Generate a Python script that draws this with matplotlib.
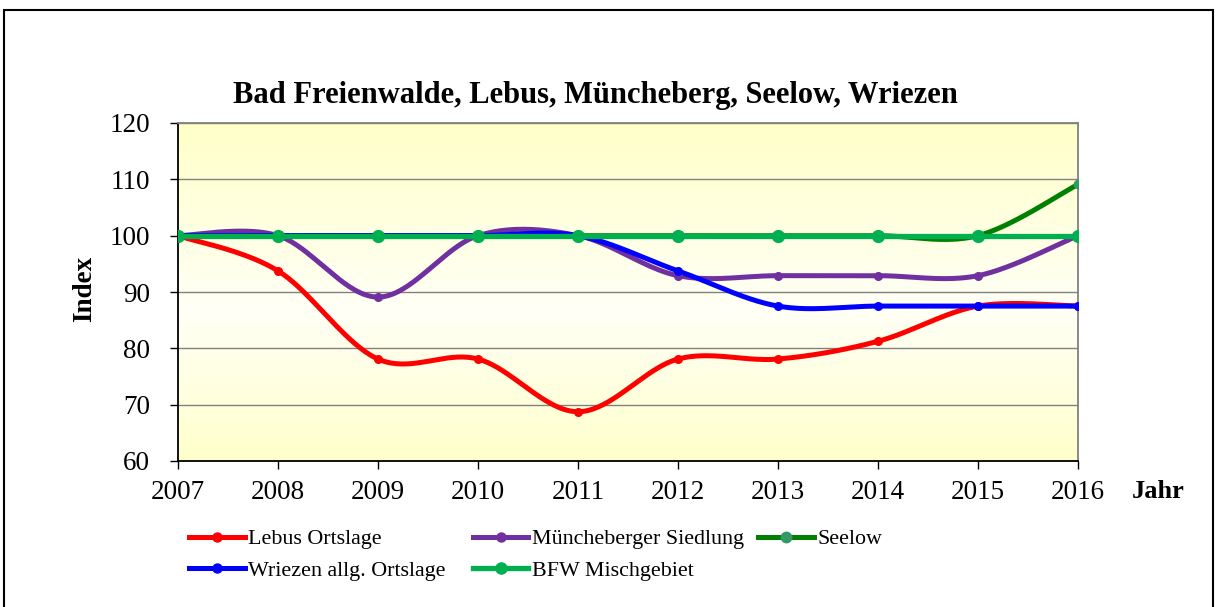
import numpy as np
import matplotlib
matplotlib.use("Agg")
import matplotlib.pyplot as plt
from matplotlib.lines import Line2D
from matplotlib.patches import Rectangle

plt.rcParams['font.family'] = ['Liberation Serif', 'DejaVu Serif']

years = ['2007', '2008', '2009', '2010', '2011', '2012', '2013', '2014', '2015', '2016']

lebus = [100, 93.75, 78.1, 78.1, 68.75, 78.1, 78.1, 81.25, 87.5, 87.5]
muencheberg = [100, 100, 89.1, 100, 100, 92.9, 92.9, 92.9, 92.9, 100]
seelow = [100, 100, 100, 100, 100, 100, 100, 100, 100, 109.1]
wriezen = [100, 100, 100, 100, 100, 93.75, 87.5, 87.5, 87.5, 87.5]
bfw = [100, 100, 100, 100, 100, 100, 100, 100, 100, 100]


def excel_smooth(y, n=40):
    # Bezier smoothing like Excel's "smoothed line"
    y = np.asarray(y, dtype=float)
    x = np.arange(len(y), dtype=float)
    pts = np.column_stack([x, y])
    out = []
    t = np.linspace(0, 1, n)[:, None]
    for i in range(len(pts) - 1):
        p_prev = pts[i - 1] if i > 0 else pts[i]
        p_next = pts[i + 2] if i + 2 < len(pts) else pts[i + 1]
        p0, p3 = pts[i], pts[i + 1]
        p1 = p0 + (p3 - p_prev) / 6
        p2 = p3 - (p_next - p0) / 6
        seg = ((1 - t) ** 3) * p0 + 3 * ((1 - t) ** 2) * t * p1 + 3 * (1 - t) * t ** 2 * p2 + t ** 3 * p3
        out.append(seg if i == 0 else seg[1:])
    out = np.vstack(out)
    return out[:, 0], out[:, 1]


fig = plt.figure(figsize=(12.16, 6.07), dpi=100)
ax = fig.add_axes([178 / 1216, 1 - 461 / 607, 900 / 1216, 338 / 607])

# outer frame of the chart object
fig.patches.append(Rectangle((4 / 1216, -0.1), 1209 / 1216, 1.1 - 10 / 607,
                             transform=fig.transFigure, fill=False,
                             edgecolor='black', linewidth=1.5))

# background gradient of the plot area
grad = np.array([[255, 255, 200], [255, 255, 246], [255, 255, 204]]) / 255.0
yy = np.linspace(0, 1, 200)
img = np.empty((200, 1, 3))
for c in range(3):
    img[:, 0, c] = np.interp(yy, [0, 0.55, 1], grad[:, c])
ax.imshow(img, extent=[0, 9, 60, 120], aspect='auto', zorder=0, origin='upper')

# values, label, line colour, marker colour, line width, marker size, legend marker size
series = [
    (lebus, 'Lebus Ortslage', '#FF0000', '#FF0000', 3.6, 5.5, 6.5),
    (muencheberg, 'Müncheberger Siedlung', '#7030A0', '#7030A0', 3.6, 5.5, 6.5),
    (seelow, 'Seelow', '#008000', '#339966', 3.6, 6, 7.5),
    (wriezen, 'Wriezen allg. Ortslage', '#0000FF', '#0000FF', 3.6, 5.5, 6.5),
    (bfw, 'BFW Mischgebiet', '#00B050', '#00B050', 3.8, 8.5, 8),
]

handles = {}
for vals, label, col, mcol, lw, ms, lms in series:
    xs, ys = excel_smooth(vals)
    ax.plot(xs, ys, color=col, linewidth=lw, solid_capstyle='round', zorder=3)
    if label == 'Seelow':
        ax.plot([9], [vals[-1]], 'o', color=mcol, markersize=ms, zorder=4)
    else:
        ax.plot(range(len(vals)), vals, 'o', color=mcol, markersize=ms, zorder=4)
    handles[label] = Line2D([], [], color=col, linewidth=lw, marker='o',
                            markerfacecolor=mcol, markeredgecolor=mcol, markersize=lms)

ax.set_xlim(0, 9)
ax.set_ylim(60, 120)
ax.set_yticks(range(60, 121, 10))
ax.set_xticks(range(len(years)))
ax.set_xticklabels(years)
ax.grid(axis='y', color='#808080', linewidth=1)
ax.set_axisbelow(True)
ax.tick_params(axis='both', labelsize=19.5, direction='out', length=6, width=1, colors='black')
ax.tick_params(axis='y', pad=14)
ax.tick_params(axis='x', pad=8)
for s in ['left', 'bottom']:
    ax.spines[s].set_color('black')
    ax.spines[s].set_linewidth(1.3)
for s in ['top', 'right']:
    ax.spines[s].set_color('#808080')
    ax.spines[s].set_linewidth(1.3)

fig.text(595 / 1216, 1 - 95 / 607, 'Bad Freienwalde, Lebus, Müncheberg, Seelow, Wriezen',
         ha='center', va='center', fontsize=22, fontweight='bold')
fig.text(85 / 1216, 1 - 289 / 607, 'Index', rotation=90, ha='center', va='center',
         fontsize=19.5, fontweight='bold')
fig.text(1158 / 1216, 1 - 492 / 607, 'Jahr', ha='center', va='center',
         fontsize=19, fontweight='bold')

# legend: two columns plus the lone "Seelow" entry on the right
leg_kw = dict(loc='upper left', frameon=False, fontsize=15.8, handlelength=2.55,
              handletextpad=0.14, labelspacing=0.5, borderaxespad=0, borderpad=0)
order = ['Lebus Ortslage', 'Wriezen allg. Ortslage', 'Müncheberger Siedlung', 'BFW Mischgebiet']
fig.legend([handles[k] for k in order], order, ncol=2, columnspacing=1.23,
           bbox_to_anchor=(189 / 1216, 1 - 529 / 607), **leg_kw)
fig.legend([handles['Seelow']], ['Seelow'],
           bbox_to_anchor=(758 / 1216, 1 - 529 / 607), **leg_kw)

fig.savefig('out.png', dpi=100)
